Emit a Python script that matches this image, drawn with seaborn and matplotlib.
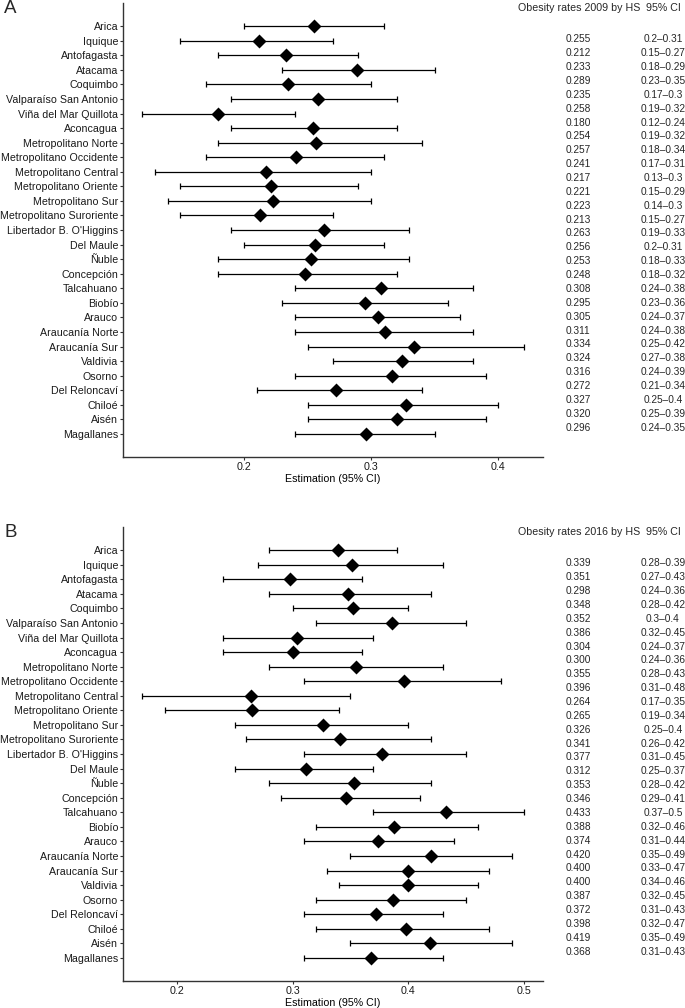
import numpy as np
import pandas as pd
import matplotlib
matplotlib.use("Agg")
import matplotlib.pyplot as plt
import seaborn as sns

regions = ["Arica", "Iquique", "Antofagasta", "Atacama", "Coquimbo",
           "Valparaíso San Antonio", "Viña del Mar Quillota", "Aconcagua",
           "Metropolitano Norte", "Metropolitano Occidente", "Metropolitano Central",
           "Metropolitano Oriente", "Metropolitano Sur", "Metropolitano Suroriente",
           "Libertador B. O'Higgins", "Del Maule", "Ñuble", "Concepción",
           "Talcahuano", "Biobío", "Arauco", "Araucanía Norte", "Araucanía Sur",
           "Valdivia", "Osorno", "Del Reloncaví", "Chiloé", "Aisén", "Magallanes"]

# 2009
est_2009 = [0.255, 0.212, 0.233, 0.289, 0.235, 0.258, 0.180, 0.254, 0.257, 0.241,
            0.217, 0.221, 0.223, 0.213, 0.263, 0.256, 0.253, 0.248, 0.308, 0.295,
            0.305, 0.311, 0.334, 0.324, 0.316, 0.272, 0.327, 0.320, 0.296]
lo_2009 = [0.2, 0.15, 0.18, 0.23, 0.17, 0.19, 0.12, 0.19, 0.18, 0.17,
           0.13, 0.15, 0.14, 0.15, 0.19, 0.2, 0.18, 0.18, 0.24, 0.23,
           0.24, 0.24, 0.25, 0.27, 0.24, 0.21, 0.25, 0.25, 0.24]
hi_2009 = [0.31, 0.27, 0.29, 0.35, 0.3, 0.32, 0.24, 0.32, 0.34, 0.31,
           0.3, 0.29, 0.3, 0.27, 0.33, 0.31, 0.33, 0.32, 0.38, 0.36,
           0.37, 0.38, 0.42, 0.38, 0.39, 0.34, 0.4, 0.39, 0.35]

# 2016
est_2016 = [0.339, 0.351, 0.298, 0.348, 0.352, 0.386, 0.304, 0.300, 0.355, 0.396,
            0.264, 0.265, 0.326, 0.341, 0.377, 0.312, 0.353, 0.346, 0.433, 0.388,
            0.374, 0.420, 0.400, 0.400, 0.387, 0.372, 0.398, 0.419, 0.368]
lo_2016 = [0.28, 0.27, 0.24, 0.28, 0.3, 0.32, 0.24, 0.24, 0.28, 0.31,
           0.17, 0.19, 0.25, 0.26, 0.31, 0.25, 0.28, 0.29, 0.37, 0.32,
           0.31, 0.35, 0.33, 0.34, 0.32, 0.31, 0.32, 0.35, 0.31]
hi_2016 = [0.39, 0.43, 0.36, 0.42, 0.4, 0.45, 0.37, 0.36, 0.43, 0.48,
           0.35, 0.34, 0.4, 0.42, 0.45, 0.37, 0.42, 0.41, 0.5, 0.46,
           0.44, 0.49, 0.47, 0.46, 0.45, 0.43, 0.47, 0.49, 0.43]

sns.set_theme(style="ticks")
plt.rcParams["font.family"] = ["Liberation Sans", "DejaVu Sans"]

W, H = 685, 1008
fig = plt.figure(figsize=(W / 100, H / 100), dpi=100)

FS = 7.7
DARK = "#333333"


def draw_panel(top_px, est, lo, hi, letter, year):
    df = pd.DataFrame({"region": regions, "est": est, "lo": lo, "hi": hi})
    n = len(df)
    ax = fig.add_axes([123 / W, 1 - (top_px + 453.5) / H, 420 / W, 453.5 / H])
    ax.errorbar(df["est"], np.arange(n), xerr=[df["est"] - df["lo"], df["hi"] - df["est"]],
                fmt="none", ecolor="black", elinewidth=0.9, capsize=2.2, capthick=0.9, zorder=2)
    sns.pointplot(data=df, x="est", y="region", order=regions, orient="h",
                  linestyle="none", marker="D", markersize=5.2, color="black",
                  errorbar=None, ax=ax, zorder=3)
    # ggplot-like 5% expansion of the CI range
    rng = df["hi"].max() - df["lo"].min()
    ax.set_xlim(df["lo"].min() - 0.05 * rng, df["hi"].max() + 0.05 * rng)
    ax.set_ylim(n - 1 + 1.57, -1.57)
    ax.set_xticks(np.arange(0.2, df["hi"].max() + 0.001, 0.1))
    ax.set_xticklabels([f"{t:.1f}" for t in ax.get_xticks()])
    ax.set_xlabel("Estimation (95% CI)", fontsize=FS, color="black", labelpad=2)
    ax.set_ylabel("")
    sns.despine(ax=ax)
    for s in ["left", "bottom"]:
        ax.spines[s].set_color(DARK)
        ax.spines[s].set_linewidth(1.0)
    ax.tick_params(axis="both", length=2.5, width=0.8, color=DARK, pad=1,
                   labelsize=FS, labelcolor="#1a1a1a")

    # table on the right
    fig.text(579 / W, 1 - (top_px + 5) / H, f"Obesity rates {year} by HS",
             ha="center", va="center", fontsize=FS)
    fig.text(663 / W, 1 - (top_px + 5) / H, "95% CI", ha="center", va="center", fontsize=FS)
    for i, row in df.iterrows():
        y = 1 - (top_px + 36 + i * 13.87) / H
        fig.text(578 / W, y, f"{row['est']:.3f}", ha="center", va="center", fontsize=7.3)
        fig.text(663 / W, y, f"{row['lo']:g}–{row['hi']:g}", ha="center", va="center", fontsize=7.3)

    fig.text(4 / W, 1 - (top_px + 5.2) / H, letter, ha="left", va="center", fontsize=13.5)


draw_panel(3.3, est_2009, lo_2009, hi_2009, "A", 2009)
draw_panel(527.3, est_2016, lo_2016, hi_2016, "B", 2016)

fig.savefig("out.png", dpi=100)
